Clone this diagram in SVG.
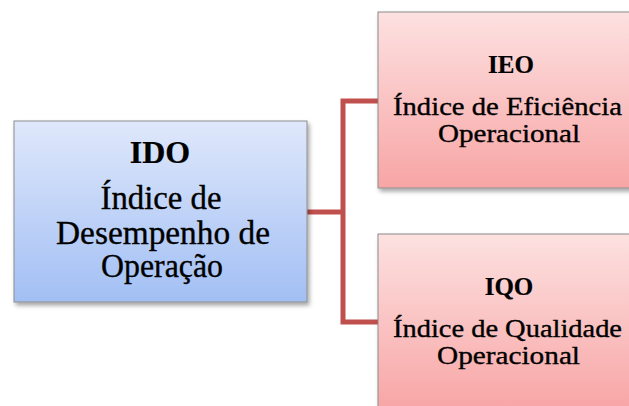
<svg xmlns="http://www.w3.org/2000/svg" width="629" height="406" viewBox="0 0 629 406">
  <defs>
    <linearGradient id="gBlue" x1="0" y1="0" x2="0" y2="1">
      <stop offset="0" stop-color="#dfe8fb"/>
      <stop offset="1" stop-color="#a2bff4"/>
    </linearGradient>
    <linearGradient id="gRed" x1="0" y1="0" x2="0" y2="1">
      <stop offset="0" stop-color="#fde1e1"/>
      <stop offset="1" stop-color="#f8a5a5"/>
    </linearGradient>
    <filter id="shadow" x="-10%" y="-10%" width="125%" height="125%">
      <feDropShadow dx="2" dy="3" stdDeviation="2" flood-color="#000" flood-opacity="0.35"/>
    </filter>
  </defs>
  <style>
    .box { stroke: #8c8c8c; stroke-width: 1; filter: url(#shadow); }
    .t { font-family: "Liberation Serif", "Times New Roman", serif; fill: #000; text-anchor: middle; stroke: #000; stroke-width: 0.35; }
    .b { font-weight: bold; stroke-width: 0.2; }
    .conn { fill: none; stroke: #c0504d; stroke-width: 5; stroke-linejoin: miter; }
  </style>
  <rect width="629" height="406" fill="#ffffff"/>
  <g id="connectors">
    <path class="conn" d="M307 212 H343"/>
    <path class="conn" d="M378 101 H343 V322 H378"/>
  </g>
  <g id="node-ido">
    <rect class="box" x="14" y="121" width="293" height="181" fill="url(#gBlue)"/>
    <text class="t b" x="160" y="163" font-size="32">IDO</text>
    <text class="t" x="161" y="209" font-size="33" textLength="121" lengthAdjust="spacingAndGlyphs">Índice de</text>
    <text class="t" x="163" y="244" font-size="33" textLength="214" lengthAdjust="spacingAndGlyphs">Desempenho de</text>
    <text class="t" x="162" y="277" font-size="33" textLength="122" lengthAdjust="spacingAndGlyphs">Operação</text>
  </g>
  <g id="node-ieo">
    <rect class="box" x="378" y="12" width="266" height="176" fill="url(#gRed)"/>
    <text class="t b" x="511" y="73" font-size="25">IEO</text>
    <text class="t" x="507.5" y="115" font-size="25" textLength="229" lengthAdjust="spacingAndGlyphs">Índice de Eficiência</text>
    <text class="t" x="509" y="142" font-size="25" textLength="142" lengthAdjust="spacingAndGlyphs">Operacional</text>
  </g>
  <g id="node-iqo">
    <rect class="box" x="378" y="234" width="266" height="176" fill="url(#gRed)"/>
    <text class="t b" x="509" y="295" font-size="25">IQO</text>
    <text class="t" x="507.5" y="337" font-size="25" textLength="229" lengthAdjust="spacingAndGlyphs">Índice de Qualidade</text>
    <text class="t" x="508.5" y="364" font-size="25" textLength="143" lengthAdjust="spacingAndGlyphs">Operacional</text>
  </g>
</svg>
